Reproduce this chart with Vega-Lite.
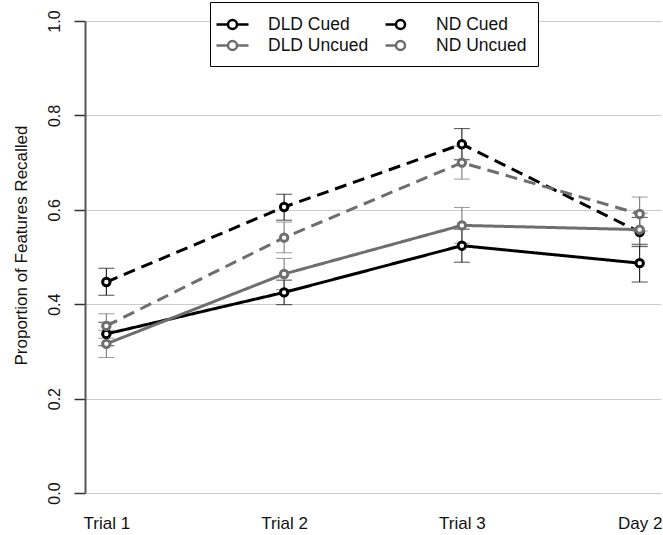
{
  "$schema": "https://vega.github.io/schema/vega-lite/v6.json",
  "width": 576,
  "height": 472,
  "autosize": {"type": "none"},
  "padding": {"left": 85, "top": 21, "right": 2, "bottom": 42},
  "background": "white",
  "config": {
    "font": "Liberation Sans",
    "view": {"stroke": null},
    "axis": {"labelFont": "Liberation Sans", "titleFont": "Liberation Sans"},
    "legend": {
      "orient": "none", "legendX": 125, "legendY": -19,
      "columns": 2, "direction": "horizontal", "gridAlign": "all",
      "fillColor": "white", "strokeColor": "#000000", "padding": 11,
      "labelFontSize": 17.5, "labelColor": "#111111", "labelFont": "Liberation Sans",
      "symbolSize": 400, "symbolStrokeWidth": 2.5, "symbolOffset": 0,
      "columnPadding": 11, "rowPadding": 0, "labelOffset": 24,
      "symbolFillColor": "transparent"
    }
  },
  "data": {
    "values": [
      {"time": "Trial 1", "series": "DLD Cued", "group": "DLD", "cue": "Cued", "mean": 0.337, "lo": 0.312, "hi": 0.362},
      {"time": "Trial 2", "series": "DLD Cued", "group": "DLD", "cue": "Cued", "mean": 0.425, "lo": 0.399, "hi": 0.451},
      {"time": "Trial 3", "series": "DLD Cued", "group": "DLD", "cue": "Cued", "mean": 0.524, "lo": 0.489, "hi": 0.559},
      {"time": "Day 2", "series": "DLD Cued", "group": "DLD", "cue": "Cued", "mean": 0.487, "lo": 0.447, "hi": 0.527},
      {"time": "Trial 1", "series": "ND Cued", "group": "ND", "cue": "Cued", "mean": 0.447, "lo": 0.419, "hi": 0.476},
      {"time": "Trial 2", "series": "ND Cued", "group": "ND", "cue": "Cued", "mean": 0.606, "lo": 0.578, "hi": 0.633},
      {"time": "Trial 3", "series": "ND Cued", "group": "ND", "cue": "Cued", "mean": 0.739, "lo": 0.706, "hi": 0.772},
      {"time": "Day 2", "series": "ND Cued", "group": "ND", "cue": "Cued", "mean": 0.553, "lo": 0.522, "hi": 0.584},
      {"time": "Trial 1", "series": "DLD Uncued", "group": "DLD", "cue": "Uncued", "mean": 0.316, "lo": 0.287, "hi": 0.345},
      {"time": "Trial 2", "series": "DLD Uncued", "group": "DLD", "cue": "Uncued", "mean": 0.464, "lo": 0.431, "hi": 0.497},
      {"time": "Trial 3", "series": "DLD Uncued", "group": "DLD", "cue": "Uncued", "mean": 0.567, "lo": 0.529, "hi": 0.605},
      {"time": "Day 2", "series": "DLD Uncued", "group": "DLD", "cue": "Uncued", "mean": 0.558, "lo": 0.523, "hi": 0.593},
      {"time": "Trial 1", "series": "ND Uncued", "group": "ND", "cue": "Uncued", "mean": 0.354, "lo": 0.328, "hi": 0.380},
      {"time": "Trial 2", "series": "ND Uncued", "group": "ND", "cue": "Uncued", "mean": 0.541, "lo": 0.509, "hi": 0.574},
      {"time": "Trial 3", "series": "ND Uncued", "group": "ND", "cue": "Uncued", "mean": 0.700, "lo": 0.665, "hi": 0.735},
      {"time": "Day 2", "series": "ND Uncued", "group": "ND", "cue": "Uncued", "mean": 0.591, "lo": 0.555, "hi": 0.627}
    ]
  },
  "encoding": {
    "x": {
      "field": "time", "type": "ordinal",
      "sort": ["Trial 1", "Trial 2", "Trial 3", "Day 2"],
      "scale": {"type": "point", "padding": 0.12},
      "axis": {
        "title": null, "domain": false, "ticks": false, "grid": false,
        "labelAngle": 0, "labelFontSize": 17, "labelColor": "#111111",
        "labelPadding": 22
      }
    }
  },
  "layer": [
    {
      "mark": {"type": "errorbar", "ticks": {"size": 16, "thickness": 1}, "thickness": 1},
      "encoding": {
        "y": {
          "field": "lo", "type": "quantitative",
          "scale": {"domain": [0, 1], "nice": false, "zero": true},
          "axis": {
            "title": "Proportion of Features Recalled",
            "titleFontSize": 17, "titleFontWeight": "normal", "titleColor": "#111111",
            "titlePadding": 16, "titleY": 224,
            "values": [0, 0.2, 0.4, 0.6, 0.8, 1.0], "format": ".1f",
            "labelAngle": 270, "labelAlign": "center", "labelBaseline": "bottom",
            "labelFontSize": 16, "labelColor": "#111111", "labelPadding": 12,
            "domainColor": "#555555", "domainWidth": 2,
            "tickColor": "#333333", "tickSize": 11, "tickWidth": 1.5,
            "grid": true, "gridColor": "#cccccc", "gridWidth": 1
          }
        },
        "y2": {"field": "hi"},
        "color": {
          "field": "cue", "type": "nominal",
          "scale": {"domain": ["Cued", "Uncued"], "range": ["#000000", "#6e6e6e"]},
          "legend": null
        }
      }
    },
    {
      "mark": {"type": "line", "strokeWidth": 3},
      "encoding": {
        "y": {"field": "mean", "type": "quantitative"},
        "stroke": {
          "field": "series", "type": "nominal",
          "scale": {"domain": ["DLD Cued", "ND Cued", "DLD Uncued", "ND Uncued"], "range": ["#000000", "#000000", "#6e6e6e", "#6e6e6e"]},
          "legend": {
            "title": null,
            "encode": {
              "symbols": {
                "update": {
                  "fill": {"value": "transparent"},
                  "shape": {"signal": "indexof(datum.value, 'ND') === 0 ? 'M-1.5,0H-0.45M-0.45,0A0.45,0.45,0,1,1,0.45,0A0.45,0.45,0,1,1,-0.45,0Z' : 'M-1.6,0H-0.45M0.45,0H1.6M-0.45,0A0.45,0.45,0,1,1,0.45,0A0.45,0.45,0,1,1,-0.45,0Z'"}
                }
              }
            }
          }
        },
        "strokeDash": {
          "field": "group", "type": "nominal",
          "scale": {"domain": ["DLD", "ND"], "range": [[1, 0], [12, 7]]},
          "legend": null
        }
      }
    },
    {
      "mark": {"type": "point", "shape": "circle", "filled": true, "fill": "white", "size": 55, "strokeWidth": 3, "opacity": 1},
      "encoding": {
        "y": {"field": "mean", "type": "quantitative"},
        "stroke": {"field": "series", "type": "nominal", "legend": {"title": null}}
      }
    }
  ]
}
